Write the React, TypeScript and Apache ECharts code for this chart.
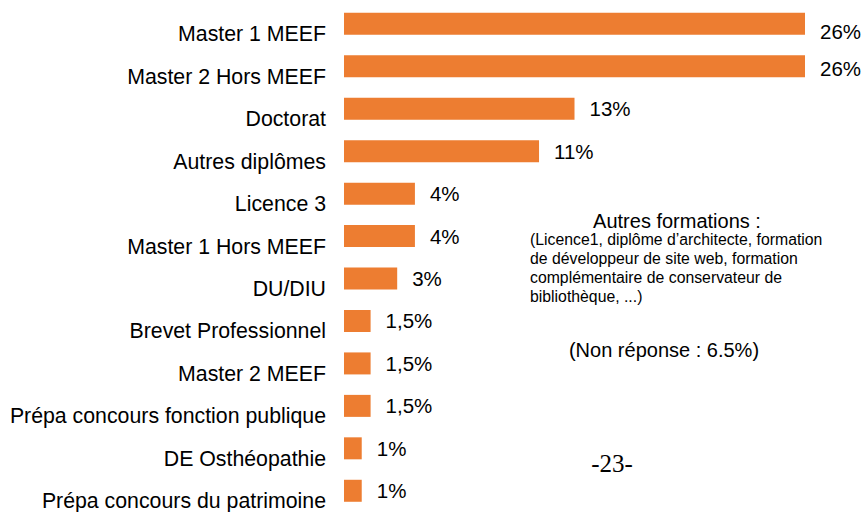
import React, { useEffect, useRef } from "react";
import * as echarts from "echarts";

const categories = [
  "Master 1 MEEF",
  "Master 2 Hors MEEF",
  "Doctorat",
  "Autres diplômes",
  "Licence 3",
  "Master 1 Hors MEEF",
  "DU/DIU",
  "Brevet Professionnel",
  "Master 2 MEEF",
  "Prépa concours fonction publique",
  "DE Osthéopathie",
  "Prépa concours du patrimoine",
];
const values = [26, 26, 13, 11, 4, 4, 3, 1.5, 1.5, 1.5, 1, 1];

const noteTitle = "Autres formations :";
const noteLines = [
  "(Licence1, diplôme d’architecte, formation",
  "de développeur de site web, formation",
  "complémentaire de conservateur de",
  "bibliothèque, ...)",
];
const nonResponse = "(Non réponse : 6.5%)";
const pageNumber = "-23-";

const FONT = "Liberation Sans, Arial, sans-serif";

export default function App() {
  const ref = useRef<HTMLDivElement>(null);
  useEffect(() => {
    if (!ref.current) return;
    const chart = echarts.init(ref.current, undefined, { renderer: "svg" });
    chart.setOption({
      animation: false,
      backgroundColor: "#ffffff",
      grid: { left: 344, top: 2.6, width: 461, height: 512.7 },
      xAxis: {
        type: "value",
        min: 0,
        max: 26,
        show: false,
      },
      yAxis: {
        type: "category",
        data: categories,
        inverse: true,
        axisLine: { show: false },
        axisTick: { show: false },
        axisLabel: {
          color: "#000",
          fontFamily: FONT,
          fontSize: 21.3,
          margin: 18,
          verticalAlign: "top",
          lineHeight: 21,
        },
      },
      series: [
        {
          type: "bar",
          data: values.map((v, i) =>
            i === 0 ? { value: v, label: { offset: [0, 8] } } : i === 1 ? { value: v, label: { offset: [0, 2] } } : v
          ),
          barWidth: 22,
          itemStyle: { color: "#ED7D31" },
          label: {
            show: true,
            position: "right",
            distance: 15,
            color: "#000",
            fontFamily: FONT,
            fontSize: 20.5,
            formatter: (p: any) => String(p.value).replace(".", ",") + "%",
          },
        },
      ],
      graphic: [
        {
          type: "text",
          x: 677,
          y: 221,
          style: {
            text: noteTitle,
            font: `20px ${FONT}`,
            fill: "#000",
            align: "center",
            verticalAlign: "middle",
          },
        },
        ...noteLines.map((t, i) => ({
          type: "text",
          x: 530,
          y: 239 + i * 19.2,
          style: {
            text: t,
            font: `15.8px ${FONT}`,
            fill: "#000",
            align: "left",
            verticalAlign: "middle",
          },
        })),
        {
          type: "text",
          x: 664,
          y: 350,
          style: {
            text: nonResponse,
            font: `20px ${FONT}`,
            fill: "#000",
            align: "center",
            verticalAlign: "middle",
          },
        },
        {
          type: "text",
          x: 612,
          y: 463,
          style: {
            text: pageNumber,
            font: `25px Liberation Serif, Times New Roman, serif`,
            fill: "#000",
            align: "center",
            verticalAlign: "middle",
          },
        },
      ],
    });
    return () => chart.dispose();
  }, []);
  return (
    <div
      ref={ref}
      style={{ position: "fixed", left: 0, top: 0, width: 864, height: 512 }}
    />
  );
}
